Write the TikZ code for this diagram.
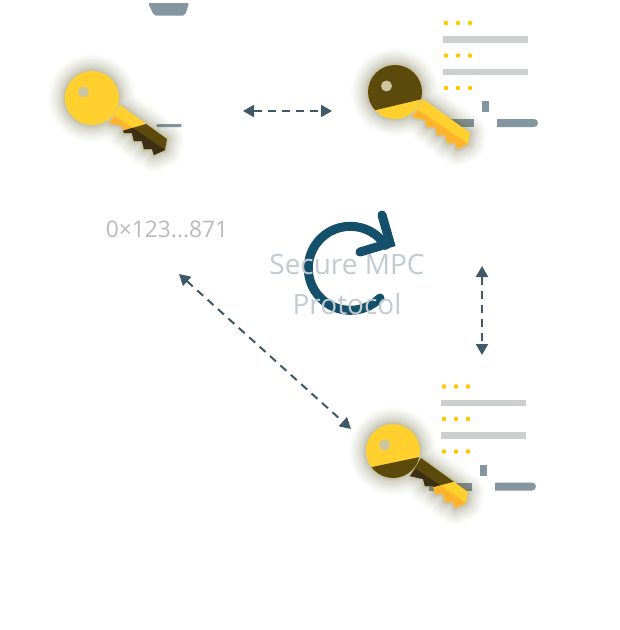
\documentclass[tikz,border=0pt]{standalone}
\usepackage{fontspec}
\setmainfont{Open Sans}
\usetikzlibrary{arrows.meta}
\definecolor{keyGold}{HTML}{FFD02E}
\definecolor{keyOrange}{HTML}{FFB42C}
\definecolor{keyDark}{HTML}{5C4A0C}
\definecolor{keyBit}{HTML}{3B2F16}
\definecolor{keyHole}{HTML}{CCC6A0}
\definecolor{slate}{HTML}{8497A0}
\definecolor{rowGrey}{HTML}{CDCFCE}
\definecolor{dotGold}{HTML}{FFC800}
\definecolor{linkBlue}{HTML}{3F5A66}
\definecolor{loopBlue}{HTML}{14506A}
\pgfdeclareradialshading{keyball}{\pgfpoint{0bp}{6bp}}{color(0bp)=(keyGold); color(34bp)=(keyGold); color(46bp)=(keyOrange); color(50bp)=(keyOrange)}
\newcommand{\keyhead}{(0,0) circle[radius=27]}
\newcommand{\keybody}{(17,25) -- (28,7) -- (75,41) -- (73,52) -- (62,57) -- (60,51) -- (52,51) -- (50,43) -- (42,43) -- (40,35) -- (32,35) -- (30,28) -- cycle}
\newcommand{\keybit}{(17,25) -- (23,18) -- (32,24) -- (73,52) -- (62,57) -- (60,51) -- (52,51) -- (50,43) -- (42,43) -- (40,35) -- (32,35) -- (30,28) -- cycle}
% #1 position, #2 the dark part of the key
\newcommand{\drawkey}[2]{
  \begin{scope}[shift={(#1)}]
    \foreach \w in {34,30,27,24,21,18,16,14,12,10,8,7,6,5,4,3,2}
      \draw[line width=\w, opacity=.022, draw=olive!60!black, line join=round] \keyhead \keybody;
    \fill[keyGold] \keybody;
    \fill[keyOrange] \keybit;
    \shade[shading=keyball] \keyhead;
    \begin{scope}
      \clip #2;
      \fill[keyDark] \keyhead;
      \fill[keyDark] \keybody;
      \fill[keyBit] \keybit;
    \end{scope}
    \fill[keyHole] (-8.5,-6) circle[radius=5.5];
  \end{scope}
}
\begin{document}
\begin{tikzpicture}[x=1pt, y=-1pt,
    row/.style={fill=rowGrey},
    dot/.style={fill=dotGold},
    part/.style={fill=slate},
    link/.style={draw=linkBlue, line width=2pt, dash pattern=on 8pt off 6pt, {Triangle[length=11pt,width=12pt]}-{Triangle[length=11pt,width=12pt]}},
    server/.pic={
      \foreach \y in {0,32.5,65} {
        \foreach \x in {3,15,27}
          \fill[dot] (\x,\y) circle[radius=2.3];
      }
      \fill[row] (0,13) rectangle (85,19.5);
      \fill[row] (0,45.5) rectangle (85,52);
      \fill[part] (39,78) rectangle (46,89);
      \fill[part] (-12,96) rectangle (31,104);
      \fill[part] (54,96) -- (91,96) arc[start angle=-90, end angle=90, radius=4] -- (54,104) -- cycle;
    }
  ]
  \useasboundingbox (0,0) rectangle (620,630);
  \fill[white] (0,0) rectangle (620,630);

  % top left
  \fill[part, rounded corners=2pt] (148,3) -- (189,3) -- (185,15.5) -- (154,15.5) -- cycle;
  \fill[part, rounded corners=1.5pt] (156,124) rectangle (182,127);
  \coordinate (keyA) at (92,98);
  \drawkey{keyA}{(54,26) -- (90,26) -- (90,80) -- (30,80) -- (30,33) -- cycle}

  % top right
  \pic at (443,23) {server};
  \coordinate (keyB) at (395,92);
  \drawkey{keyB}{(-40,23) -- (40,4) -- (40,-40) -- (-40,-40) -- cycle}

  % bottom right
  \pic at (441,386.5) {server};
  \coordinate (keyC) at (393,451);
  \drawkey{keyC}{(-40,20) -- (60,-1) -- (80,26) -- (20,41) -- (-40,60) -- cycle}

  % links
  \coordinate (linkAl) at (243,111);
  \coordinate (linkAr) at (332,111);
  \coordinate (linkBt) at (482,266);
  \coordinate (linkBb) at (482,355);
  \coordinate (linkCt) at (179,274);
  \coordinate (linkCb) at (351,429);
  \draw[link] (linkAl) -- (linkAr);
  \draw[link] (linkBt) -- (linkBb);
  \draw[link] (linkCt) -- (linkCb);

  % protocol
  \draw[loopBlue, line width=9pt, line cap=round, line join=round] (380,298) arc[start angle=45, end angle=327, radius=42];
  \draw[loopBlue, line width=9pt, line cap=round, line join=miter] (382,215) -- (390,243) -- (360,252);

  \node[text=black!27, font=\fontsize{22.8}{27}\selectfont] (address) at (167,229) {0×123...871};
  \node[text=slate!50!white, font=\fontsize{28}{34}\selectfont, align=center] (protocol) at (347,284) {Secure MPC\\[6pt]Protocol};
\end{tikzpicture}
\end{document}
